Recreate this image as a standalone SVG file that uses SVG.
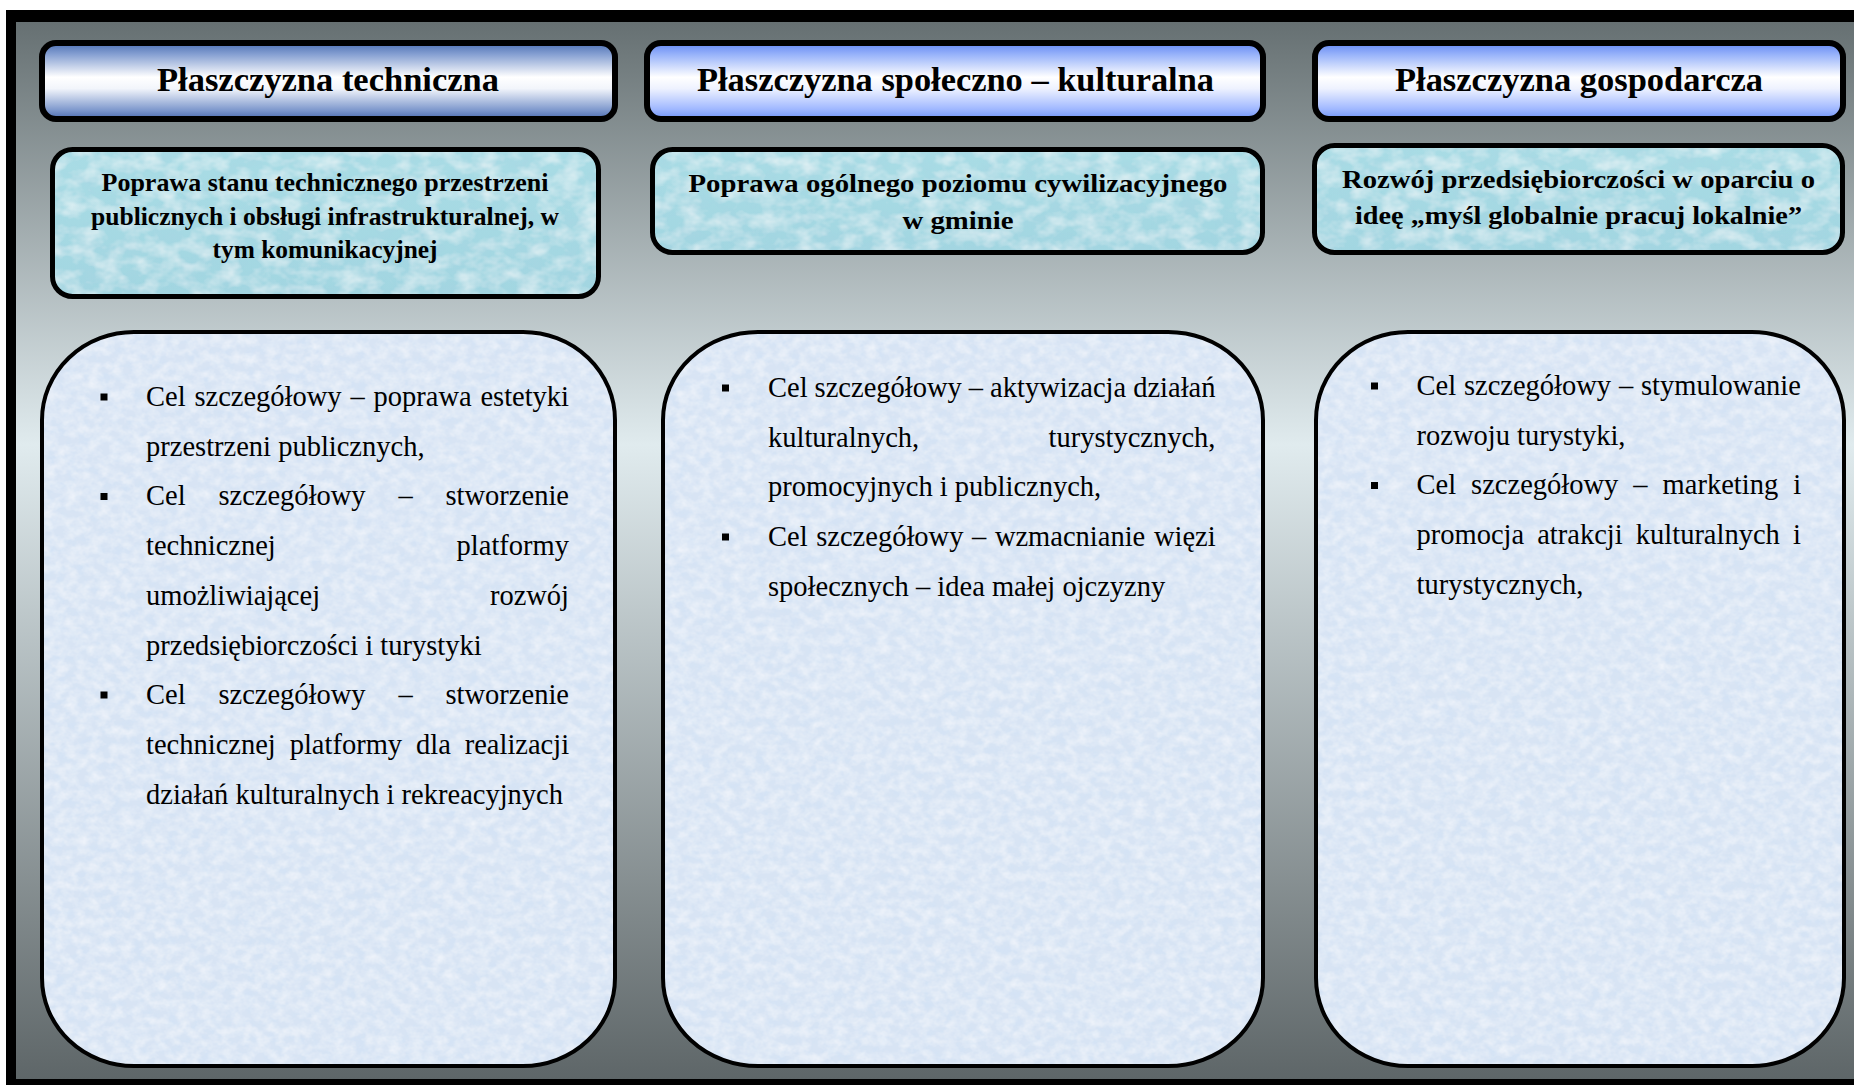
<svg xmlns="http://www.w3.org/2000/svg" width="1854" height="1085" viewBox="0 0 1854 1085">
<defs>
<linearGradient id="bg" x1="0" y1="0" x2="0" y2="1">
<stop offset="0" stop-color="#667072"/>
<stop offset="0.4" stop-color="#e0ebee"/>
<stop offset="1" stop-color="#5e6668"/>
</linearGradient>
<linearGradient id="h1" x1="0" y1="0" x2="0" y2="1">
<stop offset="0" stop-color="#4d70b4"/>
<stop offset="0.15" stop-color="#86a0d2"/>
<stop offset="0.45" stop-color="#ffffff"/>
<stop offset="0.6" stop-color="#f2f5fb"/>
<stop offset="0.88" stop-color="#7f99cd"/>
<stop offset="1" stop-color="#4a6aae"/>
</linearGradient>
<linearGradient id="h2" x1="0" y1="0" x2="0" y2="1">
<stop offset="0" stop-color="#6388f3"/>
<stop offset="0.15" stop-color="#97b2fa"/>
<stop offset="0.45" stop-color="#ffffff"/>
<stop offset="0.6" stop-color="#eef2ff"/>
<stop offset="0.87" stop-color="#a0b8ff"/>
<stop offset="1" stop-color="#6f93f6"/>
</linearGradient>
<linearGradient id="aq" x1="0" y1="0" x2="0" y2="1">
<stop offset="0" stop-color="#a9dce5"/>
<stop offset="1" stop-color="#a2d6e1"/>
</linearGradient>
<filter id="frost" x="0" y="0" width="1" height="1">
<feTurbulence type="fractalNoise" baseFrequency="0.09 0.11" numOctaves="3" seed="7" result="n"/>
<feColorMatrix in="n" type="matrix" values="0 0 0 0 1  0 0 0 0 1  0 0 0 0 1  0.9 0 0 0 -0.3" result="wh"/>
<feColorMatrix in="n" type="matrix" values="0 0 0 0 0.6  0 0 0 0 0.75  0 0 0 0 0.93  0 0.8 0 0 -0.36" result="bl"/>
<feComposite in="wh" in2="SourceGraphic" operator="in" result="wh2"/>
<feComposite in="bl" in2="SourceGraphic" operator="in" result="bl2"/>
<feMerge><feMergeNode in="SourceGraphic"/><feMergeNode in="bl2"/><feMergeNode in="wh2"/></feMerge>
</filter>
<filter id="water" x="0" y="0" width="1" height="1">
<feTurbulence type="fractalNoise" baseFrequency="0.05 0.07" numOctaves="3" seed="11" result="n"/>
<feColorMatrix in="n" type="matrix" values="0 0 0 0 1  0 0 0 0 1  0 0 0 0 1  1.0 0 0 0 -0.38" result="wh"/>
<feColorMatrix in="n" type="matrix" values="0 0 0 0 0.4  0 0 0 0 0.66  0 0 0 0 0.76  0 1.0 0 0 -0.45" result="dk"/>
<feComposite in="wh" in2="SourceGraphic" operator="in" result="wh2"/>
<feComposite in="dk" in2="SourceGraphic" operator="in" result="dk2"/>
<feMerge><feMergeNode in="SourceGraphic"/><feMergeNode in="dk2"/><feMergeNode in="wh2"/></feMerge>
</filter>
<style>
.hbox{stroke:#000;stroke-width:6}
.sbox{fill:url(#aq);filter:url(#water)}
.bbox{fill:#d8e4f4;filter:url(#frost)}
.edge{fill:none;stroke:#000}
.hdr{font-family:"Liberation Serif",serif;font-weight:bold;font-size:34px;text-anchor:middle;fill:#000}
.sub{font-family:"Liberation Serif",serif;font-weight:bold;font-size:26px;text-anchor:middle;fill:#000}
.bd{font-family:"Liberation Serif",serif;font-size:28.5px;fill:#000}
.bul{fill:#000}
</style>
</defs>

<rect x="6" y="10" width="1848" height="1075" fill="#000"/>
<rect x="16" y="22" width="1838" height="1057" fill="url(#bg)"/>

<g id="connectors"/>

<g id="header-techniczna">
<rect class="hbox" x="42" y="43" width="573" height="76" rx="14" fill="url(#h1)"/>
<text class="hdr" x="328" y="91" textLength="342" lengthAdjust="spacingAndGlyphs">Płaszczyzna techniczna</text>
</g>
<g id="header-spoleczno">
<rect class="hbox" x="647" y="43" width="616" height="76" rx="14" fill="url(#h2)"/>
<text class="hdr" x="955.5" y="91" textLength="517" lengthAdjust="spacingAndGlyphs">Płaszczyzna społeczno – kulturalna</text>
</g>
<g id="header-gospodarcza">
<rect class="hbox" x="1315" y="43" width="528" height="76" rx="14" fill="url(#h2)"/>
<text class="hdr" x="1579" y="91" textLength="368" lengthAdjust="spacingAndGlyphs">Płaszczyzna gospodarcza</text>
</g>

<g id="goal-techniczna">
<rect class="sbox" x="52.5" y="149.5" width="546" height="147" rx="20"/>
<rect class="edge" stroke-width="5" x="52.5" y="149.5" width="546" height="147" rx="20"/>
<text class="sub" x="325" y="191" textLength="447" lengthAdjust="spacingAndGlyphs">Poprawa stanu technicznego przestrzeni</text>
<text class="sub" x="325" y="225" textLength="468" lengthAdjust="spacingAndGlyphs">publicznych i obsługi infrastrukturalnej, w</text>
<text class="sub" x="325" y="258" textLength="225" lengthAdjust="spacingAndGlyphs">tym komunikacyjnej</text>
</g>
<g id="goal-spoleczno">
<rect class="sbox" x="652.5" y="149.5" width="610" height="103" rx="20"/>
<rect class="edge" stroke-width="5" x="652.5" y="149.5" width="610" height="103" rx="20"/>
<text class="sub" x="958" y="192" textLength="539" lengthAdjust="spacingAndGlyphs">Poprawa ogólnego poziomu cywilizacyjnego</text>
<text class="sub" x="958" y="229" textLength="111" lengthAdjust="spacingAndGlyphs">w gminie</text>
</g>
<g id="goal-gospodarcza">
<rect class="sbox" x="1314.5" y="145.5" width="528" height="107" rx="20"/>
<rect class="edge" stroke-width="5" x="1314.5" y="145.5" width="528" height="107" rx="20"/>
<text class="sub" x="1578.5" y="188" textLength="473" lengthAdjust="spacingAndGlyphs">Rozwój przedsiębiorczości w oparciu o</text>
<text class="sub" x="1578.5" y="224" textLength="447" lengthAdjust="spacingAndGlyphs">ideę „myśl globalnie pracuj lokalnie”</text>
</g>

<g id="body-techniczna">
<rect class="bbox" x="42" y="332" width="573" height="734" rx="92" ry="88"/>
<rect class="edge" stroke-width="4" x="42" y="332" width="573" height="734" rx="92" ry="88"/>
<rect class="bul" x="100.5" y="393.5" width="7" height="7"/>
<rect class="bul" x="100.5" y="493" width="7" height="7"/>
<rect class="bul" x="100.5" y="691.5" width="7" height="7"/>
<text class="bd" y="406"><tspan x="146">Cel</tspan><tspan x="194.4">szczegółowy</tspan><tspan x="350.4">–</tspan><tspan x="373.5">poprawa</tspan><tspan x="480.4">estetyki</tspan></text>
<text class="bd" x="146" y="455.7">przestrzeni publicznych,</text>
<text class="bd" y="505.4"><tspan x="146">Cel</tspan><tspan x="218.4">szczegółowy</tspan><tspan x="398.4">–</tspan><tspan x="445.5">stworzenie</tspan></text>
<text class="bd" y="555.1"><tspan x="146">technicznej</tspan><tspan x="456.6">platformy</tspan></text>
<text class="bd" y="604.8"><tspan x="146">umożliwiającej</tspan><tspan x="489.9">rozwój</tspan></text>
<text class="bd" x="146" y="654.5">przedsiębiorczości i turystyki</text>
<text class="bd" y="704.2"><tspan x="146">Cel</tspan><tspan x="218.4">szczegółowy</tspan><tspan x="398.4">–</tspan><tspan x="445.5">stworzenie</tspan></text>
<text class="bd" y="753.9"><tspan x="146">technicznej</tspan><tspan x="289.7">platformy</tspan><tspan x="416">dla</tspan><tspan x="464.7">realizacji</tspan></text>
<text class="bd" x="146" y="803.6">działań kulturalnych i rekreacyjnych</text>
</g>

<g id="body-spoleczno">
<rect class="bbox" x="663" y="332" width="600" height="734" rx="95" ry="88"/>
<rect class="edge" stroke-width="4" x="663" y="332" width="600" height="734" rx="95" ry="88"/>
<rect class="bul" x="722" y="384.5" width="7" height="7"/>
<rect class="bul" x="722" y="533.5" width="7" height="7"/>
<text class="bd" y="397"><tspan x="768">Cel</tspan><tspan x="814.6">szczegółowy</tspan><tspan x="968.8">–</tspan><tspan x="990.1">aktywizacja</tspan><tspan x="1133.2">działań</tspan></text>
<text class="bd" y="446.7"><tspan x="768">kulturalnych,</tspan><tspan x="1048.5">turystycznych,</tspan></text>
<text class="bd" x="768" y="496.4">promocyjnych i publicznych,</text>
<text class="bd" y="546.1"><tspan x="768">Cel</tspan><tspan x="816.2">szczegółowy</tspan><tspan x="972">–</tspan><tspan x="994.9">wzmacnianie</tspan><tspan x="1153.9">więzi</tspan></text>
<text class="bd" x="768" y="595.8">społecznych – idea małej ojczyzny</text>
</g>

<g id="body-gospodarcza">
<rect class="bbox" x="1316" y="332" width="528" height="734" rx="92" ry="88"/>
<rect class="edge" stroke-width="4" x="1316" y="332" width="528" height="734" rx="92" ry="88"/>
<rect class="bul" x="1371" y="382.5" width="7" height="7"/>
<rect class="bul" x="1371" y="482" width="7" height="7"/>
<text class="bd" y="395"><tspan x="1416.5">Cel</tspan><tspan x="1463.9">szczegółowy</tspan><tspan x="1618.9">–</tspan><tspan x="1641">stymulowanie</tspan></text>
<text class="bd" x="1416.5" y="444.7">rozwoju turystyki,</text>
<text class="bd" y="494.4"><tspan x="1416.5">Cel</tspan><tspan x="1471.1">szczegółowy</tspan><tspan x="1633.3">–</tspan><tspan x="1662.6">marketing</tspan><tspan x="1793.2">i</tspan></text>
<text class="bd" y="544.1"><tspan x="1416.5">promocja</tspan><tspan x="1537.2">atrakcji</tspan><tspan x="1635.8">kulturalnych</tspan><tspan x="1793.1">i</tspan></text>
<text class="bd" x="1416.5" y="593.8">turystycznych,</text>
</g>
</svg>
